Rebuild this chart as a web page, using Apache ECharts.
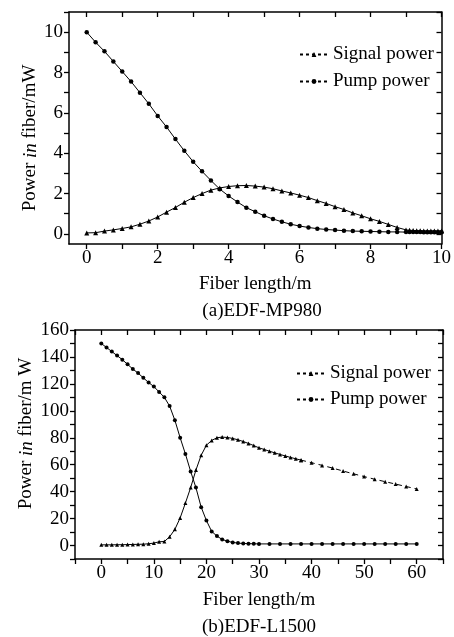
<!DOCTYPE html>
<html>
<head>
<meta charset="utf-8">
<script src="https://cdn.jsdelivr.net/npm/echarts@6/dist/echarts.min.js"></script>
<style>
html,body{margin:0;padding:0;background:#fff;}
#c{width:454px;height:637px;}
</style>
</head>
<body>
<div id="c"></div>
<script>
// ---------- Chart (a) EDF-MP980 ----------
var aX = [0,0.25,0.5,0.75,1,1.25,1.5,1.75,2,2.25,2.5,2.75,3,3.25,3.5,3.75,4,4.25,4.5,4.75,5,5.25,5.5,5.75,6,6.25,6.5,6.75,7,7.25,7.5,7.75,8,8.25,8.5,8.75,9,9.1,9.2,9.3,9.4,9.5,9.6,9.7,9.8,9.9,10];
var aSignal = [0.05,0.06,0.14,0.2,0.27,0.35,0.48,0.64,0.84,1.08,1.31,1.57,1.8,2.0,2.17,2.28,2.35,2.39,2.4,2.37,2.32,2.24,2.13,2.03,1.92,1.8,1.65,1.51,1.35,1.21,1.04,0.9,0.75,0.62,0.47,0.32,0.2,0.18,0.17,0.16,0.16,0.15,0.15,0.15,0.15,0.15,0.15];
var aPump = [10.0,9.5,9.05,8.55,8.05,7.55,7.0,6.45,5.85,5.3,4.7,4.12,3.58,3.1,2.65,2.22,1.88,1.58,1.3,1.1,0.9,0.74,0.6,0.48,0.39,0.32,0.26,0.22,0.19,0.16,0.14,0.13,0.12,0.11,0.1,0.1,0.09,0.09,0.09,0.09,0.09,0.08,0.08,0.08,0.08,0.08,0.08];
var aXTicks = [0,1,2,3,4,5,6,7,8,9,10];
var aXLabels = [0,2,4,6,8,10];
var aYTicks = [0,1,2,3,4,5,6,7,8,9,10,11];
var aYLabels = [0,2,4,6,8,10];

// ---------- Chart (b) EDF-L1500 ----------
var bPumpX = [0,1,2,3,4,5,6,7,8,9,10,11,12,13,14,15,16,17,18,19,20,21,22,23,24,25,26,27,28,29,30,32,34,36,38,40,42,44,46,48,50,52,54,56,58,60];
var bPump = [150,147,144,141,138,134.5,131,128,124.5,121,118,114,110,103.5,93,80,68,55,43,28.5,18.5,10.5,7,4.5,3.2,2.3,1.8,1.5,1.4,1.3,1.2,1.2,1.2,1.2,1.2,1.2,1.2,1.2,1.2,1.2,1.2,1.2,1.2,1.2,1.2,1.2];
var bSignalX = [0,1,2,3,4,5,6,7,8,9,10,11,12,13,14,15,16,17,18,19,20,21,22,23,24,25,26,27,28,29,30,31,32,33,34,35,36,37,38];
var bSignal = [0.5,0.5,0.5,0.6,0.6,0.7,0.8,0.9,1.0,1.3,1.8,2.8,3,6.5,12,20.5,31.5,43,56,67,74.5,78,80,80.5,80.2,79.5,78.5,77.2,75.8,74.2,72.5,71.3,70,68.8,67.6,66.5,65.4,64.4,63.4];
var bSignalTailX = [38,40,42,44,46,48,50,52,54,56,58,60];
var bSignalTail = [63.4,61.5,59.5,57.5,55.3,53.2,51.2,49.2,47.4,45.6,43.8,42];
var bXTicks = [-5,0,5,10,15,20,25,30,35,40,45,50,55,60,65];
var bXLabels = [0,10,20,30,40,50,60];
var bYTicks = [-10,0,10,20,30,40,50,60,70,80,90,100,110,120,130,140,150,160];
var bYLabels = [0,20,40,60,80,100,120,140,160];

var FONT = 'Liberation Serif';
function zip(xs, ys){ return xs.map(function(x,i){ return [x, ys[i]]; }); }

function mainX(grid, min, max, ticks, labels, name, gap){
  return {
    type:'value', gridIndex:grid, min:min, max:max, position:'bottom',
    axisLine:{show:true, onZero:false, lineStyle:{color:'#000', width:1.5}},
    axisTick:{show:true, inside:false, length:5, customValues:ticks, lineStyle:{color:'#000', width:1.3}},
    axisLabel:{show:true, customValues:labels, margin:5, color:'#000', fontFamily:FONT, fontSize:19},
    splitLine:{show:false},
    name:name, nameLocation:'middle', nameGap:gap,
    nameTextStyle:{color:'#000', fontFamily:FONT, fontSize:19}
  };
}
function mirrorX(grid, min, max, ticks){
  return {
    type:'value', gridIndex:grid, min:min, max:max, position:'top',
    axisLine:{show:true, onZero:false, lineStyle:{color:'#000', width:1.5}},
    axisTick:{show:true, inside:true, length:5, customValues:ticks, lineStyle:{color:'#000', width:1.3}},
    axisLabel:{show:false}, splitLine:{show:false}
  };
}
function mainY(grid, min, max, ticks, labels, gap, nameText, pad){
  return {
    type:'value', gridIndex:grid, min:min, max:max, position:'left',
    axisLine:{show:true, onZero:false, lineStyle:{color:'#000', width:1.5}},
    axisTick:{show:true, inside:false, length:5, customValues:ticks, lineStyle:{color:'#000', width:1.3}},
    axisLabel:{show:true, customValues:labels, margin:6, color:'#000', fontFamily:FONT, fontSize:19},
    splitLine:{show:false},
    name:nameText, nameLocation:'middle', nameGap:gap, nameMoveOverlap:false,
    nameTextStyle:{color:'#000', fontFamily:FONT, fontSize:19, padding:pad,
      rich:{a:{color:'#000', fontFamily:FONT, fontSize:19}, i:{color:'#000', fontFamily:FONT, fontSize:19, fontStyle:'italic'}}}
  };
}
function mirrorY(grid, min, max, ticks){
  return {
    type:'value', gridIndex:grid, min:min, max:max, position:'right',
    axisLine:{show:true, onZero:false, lineStyle:{color:'#000', width:1.5}},
    axisTick:{show:true, inside:true, length:5, customValues:ticks, lineStyle:{color:'#000', width:1.3}},
    axisLabel:{show:false}, splitLine:{show:false}
  };
}
function lineSeries(name, xi, yi, data, symbol, size, dashed){
  return {
    name:name, type:'line', xAxisIndex:xi, yAxisIndex:yi, data:data,
    symbol:symbol, symbolSize:size, showSymbol:true,
    lineStyle:{color:'#000', width:1, type: dashed ? [5,4] : 'solid'},
    itemStyle:{color:'#000'}, animation:false
  };
}
var legendText = {color:'#000', fontFamily:FONT, fontSize:19};

var option = {
  backgroundColor:'#fff',
  animation:false,
  grid:[
    {left:69, top:12, width:374, height:232},
    {left:75, top:330, width:368, height:229}
  ],
  xAxis:[
    mainX(0, -0.5, 10, aXTicks, aXLabels, 'Fiber length/m', 31),
    mirrorX(0, -0.5, 10, aXTicks),
    mainX(1, -5, 65, bXTicks, bXLabels, 'Fiber length/m', 32),
    mirrorX(1, -5, 65, bXTicks)
  ],
  yAxis:[
    mainY(0, -0.5, 11, aYTicks, aYLabels, 29, '{a|Power }{i|in}{a| fiber/mW}', [0,20,0,0]),
    mirrorY(0, -0.5, 11, aYTicks),
    mainY(1, -10, 160, bYTicks, bYLabels, 39, '{a|Power }{i|in}{a| fiber/m W}', [0,0,0,22]),
    mirrorY(1, -10, 160, bYTicks)
  ],
  legend:[
    {orient:'vertical', left:294, top:40, itemGap:8, itemWidth:28, itemHeight:6, textStyle:legendText,
     data:[{name:'Signal power', lineStyle:{type:[3,3]}}, {name:'Pump power', lineStyle:{type:[3,3]}}]},
    {orient:'vertical', left:291, top:359, itemGap:7, itemWidth:28, itemHeight:6, textStyle:legendText,
     data:[{name:'Signal power ', lineStyle:{type:[3,3]}}, {name:'Pump power ', lineStyle:{type:[3,3]}}]}
  ],
  series:[
    lineSeries('Signal power', 0, 0, zip(aX, aSignal), 'triangle', 5, false),
    lineSeries('Pump power', 0, 0, zip(aX, aPump), 'circle', 4.5, false),
    lineSeries('Signal power ', 2, 2, zip(bSignalX, bSignal), 'triangle', 4, false),
    lineSeries('Signal power ', 2, 2, zip(bSignalTailX, bSignalTail), 'triangle', 4, true),
    lineSeries('Pump power ', 2, 2, zip(bPumpX, bPump), 'circle', 4, false)
  ],
  graphic:[
    {type:'text', x:262, y:311, style:{text:'(a)EDF-MP980', fill:'#000', font:'19px "Liberation Serif"', textAlign:'center', textVerticalAlign:'middle'}},
    {type:'text', x:259, y:627, style:{text:'(b)EDF-L1500', fill:'#000', font:'19px "Liberation Serif"', textAlign:'center', textVerticalAlign:'middle'}}
  ]
};
var chart = echarts.init(document.getElementById('c'), null, {renderer:'canvas'});
chart.setOption(option);
</script>
</body>
</html>
